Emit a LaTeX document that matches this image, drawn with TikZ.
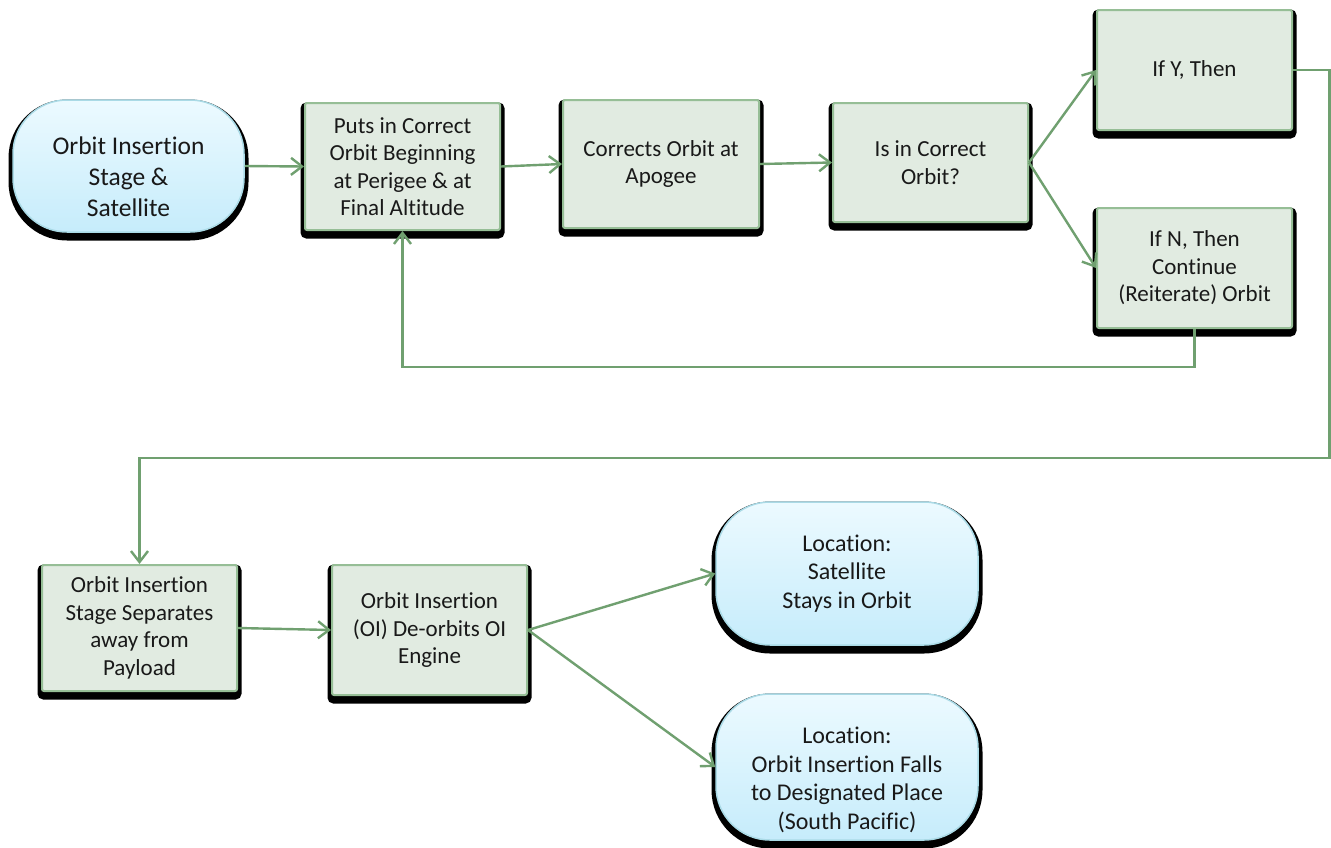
\documentclass[tikz,border=0pt]{standalone}
\usepackage{fontspec}
\setmainfont{Carlito}[Ligatures=NoCommon]
\usetikzlibrary{arrows.meta}
\definecolor{boxfill}{RGB}{225,235,225}
\definecolor{boxline}{RGB}{150,190,150}
\definecolor{connc}{RGB}{112,160,112}
\definecolor{termtop}{RGB}{236,250,255}
\definecolor{termbot}{RGB}{198,236,251}
\definecolor{termring}{RGB}{170,218,230}
\definecolor{txt}{RGB}{25,25,25}
\tikzset{
  blackshadow/.style={preaction={draw=black,fill=black,line width=9pt,transform canvas={yshift=-4pt}}},
  procbox/.style={blackshadow, rectangle, rounded corners=2pt, fill=boxfill, draw=boxline,
    line width=2pt, align=center, text=txt, font=\fontsize{23}{27.5}\selectfont, inner sep=0pt,
    minimum width=195pt},
  termbox/.style={blackshadow, rectangle, rounded corners=54pt, top color=termtop,
    bottom color=termbot, draw=termring, line width=1.5pt, inner sep=0pt},
  termtext/.style={align=center, text=txt, font=\fontsize{24}{28.5}\selectfont},
  connector/.style={draw=connc, line width=2.4pt, -{Straight Barb[length=11pt,width=17pt]}},
}
\begin{document}
\begin{tikzpicture}[x=1pt,y=-1pt]
\useasboundingbox[fill=white] (0,0) rectangle (1331,847);
% terminals
\node[termbox, minimum width=231pt, minimum height=132pt] (t1) at (128.5,166) {};
\node[termtext, font=\fontsize{25.5}{31}\selectfont] (t1text) at (128.5,177) {Orbit Insertion\\Stage \&\\Satellite};
\node[termbox, termtext, minimum width=262pt, minimum height=143pt] (t9) at (847,573.5) {Location:\\Satellite\\Stays in Orbit};
\node[termbox, minimum width=262pt, minimum height=146pt] (t10) at (847,767) {};
\node[termtext] (t10text) at (847,780) {Location:\\Orbit Insertion Falls\\to Designated Place\\(South Pacific)};
% process boxes
\node[procbox, minimum height=127pt] (b2) at (402.5,166.5) {Puts in Correct\\Orbit Beginning\\at Perigee \& at\\Final Altitude};
\node[procbox, minimum width=196pt, minimum height=128pt] (b3) at (661,164) {Corrects Orbit at\\Apogee};
\node[procbox, minimum height=119pt] (b4) at (930.5,162.5) {Is in Correct\\Orbit?};
\node[procbox, minimum height=120pt] (b5) at (1194.5,70) {If Y, Then};
\node[procbox, minimum height=120pt] (b6) at (1194.5,268) {If N, Then\\Continue\\(Reiterate) Orbit};
\node[procbox, minimum height=126pt] (b7) at (139.5,628) {Orbit Insertion\\Stage Separates\\away from\\Payload};
\node[procbox, minimum height=130pt] (b8) at (429.5,630) {Orbit Insertion\\(OI) De-orbits OI\\Engine};
% bend points
\coordinate (c1) at (1329.5,458);
\coordinate (c2) at (800,367);
% connectors
\draw[connector] (t1.east) -- (b2.west);
\draw[connector] (b2.east) -- (b3.west);
\draw[connector] (b3.east) -- (b4.west);
\draw[connector] (b4.east) -- (b5.west);
\draw[connector] (b4.east) -- (b6.west);
\draw[connector] (b5.east) -| (c1) -| (b7.north);
\draw[connector] (b6.south) |- (c2) -| (b2.south);
\draw[connector] (b7.east) -- (b8.west);
\draw[connector] (b8.east) -- (t9.west);
\draw[connector] (b8.east) -- (t10.west);
\end{tikzpicture}
\end{document}
